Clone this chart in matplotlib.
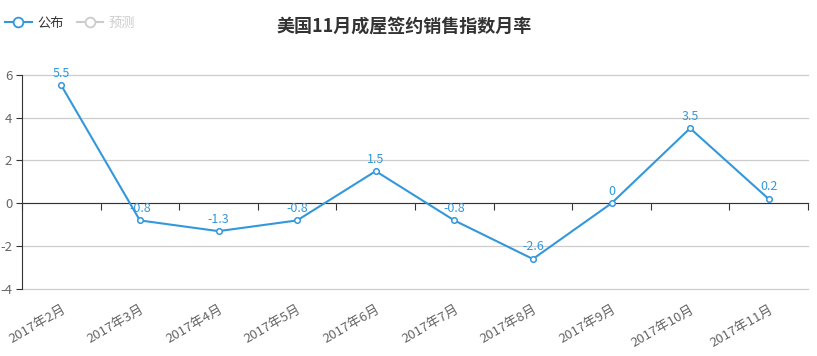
import matplotlib
matplotlib.use("Agg")
import matplotlib.pyplot as plt
from matplotlib.lines import Line2D
import numpy as np

plt.rcParams['font.family'] = ['Noto Sans CJK SC', 'DejaVu Sans']

categories = ["2017年2月", "2017年3月", "2017年4月", "2017年5月", "2017年6月",
              "2017年7月", "2017年8月", "2017年9月", "2017年10月", "2017年11月"]
values = [5.5, -0.8, -1.3, -0.8, 1.5, -0.8, -2.6, 0, 3.5, 0.2]
yticks = [-4, -2, 0, 2, 4, 6]
title = "美国11月成屋签约销售指数月率"
legend_names = ["公布", "预测"]

blue = "#3398db"
fig = plt.figure(figsize=(8.17, 3.56), dpi=100)
ax = fig.add_axes([22/817, 1-289/356, (808-22)/817, (289-74.7)/356])

x = np.arange(len(categories))
ax.plot(x, values, color=blue, lw=1.5, marker='o', ms=4, mfc='white',
        mec=blue, mew=1.1, zorder=5)
for xi, v in zip(x, values):
    ax.annotate(f"{v:g}", (xi, v), xytext=(0, 4), textcoords='offset points',
                ha='center', va='bottom', fontsize=9, color=blue, zorder=6)

ax.set_xlim(-0.5, len(categories) - 0.5)
ax.set_ylim(-4, 6)
ax.set_yticks(yticks)
ax.set_yticklabels([str(t) for t in yticks], fontsize=9.5, color='#666666')
ax.yaxis.grid(True, color='#cccccc', lw=0.9)
for gl in ax.get_ygridlines():
    gl.set_clip_on(False)
ax.set_axisbelow(True)
ax.tick_params(axis='y', length=4, color='#333333', pad=3)

for s in ['top', 'right']:
    ax.spines[s].set_visible(False)
ax.spines['left'].set_color('#333333')
ax.spines['bottom'].set_position(('data', 0))
ax.spines['bottom'].set_color('#333333')
ax.set_xticks(np.arange(len(categories) + 1) - 0.5)
ax.tick_params(axis='x', length=5, direction='out', color='#333333', labelbottom=False)

sec = ax.secondary_xaxis(0)
sec.set_xticks(x)
sec.set_xticklabels(categories, rotation=30, ha='right', rotation_mode='anchor',
                    fontsize=9.5, color='#666666')
sec.tick_params(length=0, pad=10)
sec.spines['bottom'].set_visible(False)

fig.text(404/817, 1-27/356, title, ha='center', va='center', fontsize=13,
         fontweight='bold', color='#333333')

handles = [Line2D([0], [0], color=blue, lw=1.5, marker='o', ms=7, mfc='white', mec=blue, mew=1.3),
           Line2D([0], [0], color='#cccccc', lw=1.5, marker='o', ms=7, mfc='white', mec='#cccccc', mew=1.3)]
leg = fig.legend(handles, legend_names, loc='center left', bbox_to_anchor=(0/817, 1-23/356),
                 ncol=2, frameon=False, fontsize=9.5, handlelength=2.0, handletextpad=0.4,
                 columnspacing=1.0, borderaxespad=0)
leg.get_texts()[0].set_color('#333333')
leg.get_texts()[1].set_color('#cccccc')

fig.savefig("out.png", dpi=100)
